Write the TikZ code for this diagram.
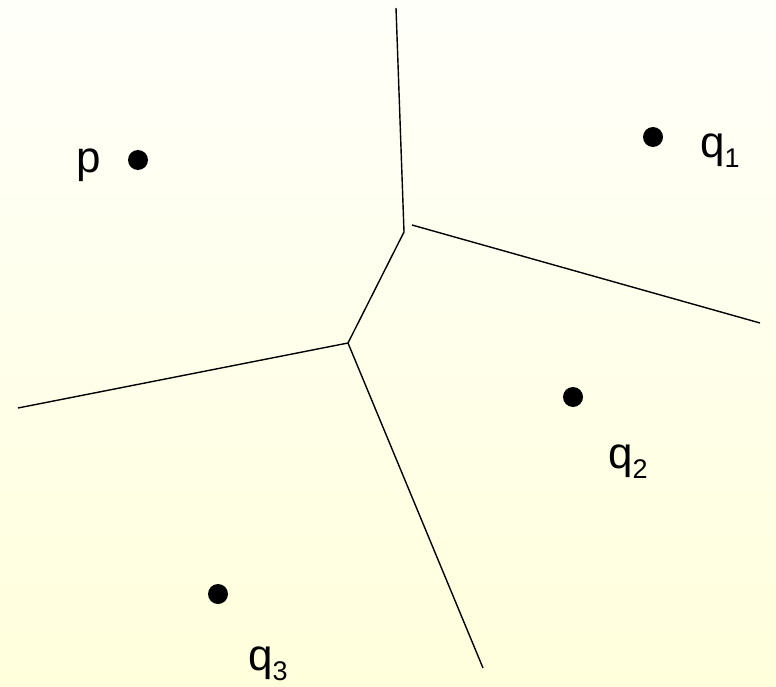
\documentclass[tikz,border=0pt]{standalone}
\usepackage{fontspec}
\setmainfont{Liberation Sans}
\newcommand{\qlab}[1]{q{\fontsize{27}{27}\selectfont\raisebox{-10pt}{#1}}}
\begin{document}
\begin{tikzpicture}[x=1pt,y=-1pt,
  edge/.style={line width=1.4pt,black},
  site/.style={circle,fill=black,inner sep=0pt,minimum size=20pt},
  lab/.style={inner sep=0pt,anchor=base west,font=\fontsize{44}{44}\selectfont}]
\shade[top color={rgb,255:red,255;green,255;blue,250},bottom color={rgb,255:red,255;green,255;blue,220}] (0,0) rectangle (776,687);
\useasboundingbox (0,0) rectangle (776,687);
\coordinate (top) at (396,8);
\coordinate (v1) at (404,232);
\coordinate (r0) at (412,225);
\coordinate (r1) at (760,323);
\coordinate (v2) at (348,343);
\coordinate (left) at (18,408);
\coordinate (bot) at (483,668);
\draw[edge] (top) -- (v1) -- (v2) -- (left);
\draw[edge] (v2) -- (bot);
\draw[edge] (r0) -- (r1);
\node[site] (p) at (138,160) {};
\node[site] (q1) at (653,137) {};
\node[site] (q2) at (573,397) {};
\node[site] (q3) at (218,594) {};
\node[lab] (lp) at (76,173) {p};
\node[lab] (lq1) at (700,158) {\qlab{1}};
\node[lab] (lq2) at (608,468) {\qlab{2}};
\node[lab] (lq3) at (248,670) {\qlab{3}};
\end{tikzpicture}
\end{document}
